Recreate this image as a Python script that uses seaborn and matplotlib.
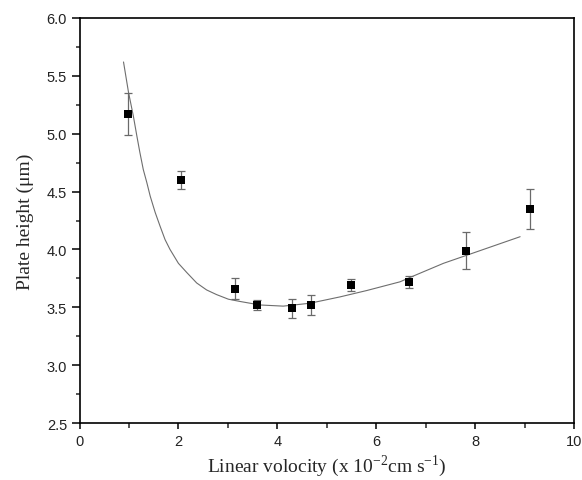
import matplotlib
matplotlib.use("Agg")
import matplotlib.pyplot as plt
from matplotlib.ticker import MultipleLocator, FormatStrFormatter
import pandas as pd
import seaborn as sns

sns.set_style("ticks")

# === Data ===
velocity = [0.99, 2.06, 3.14, 3.58, 4.30, 4.69, 5.49, 6.67, 7.81, 9.10]
plate_height = [5.17, 4.60, 3.66, 3.52, 3.49, 3.52, 3.695, 3.72, 3.99, 4.35]
height_err = [0.18, 0.08, 0.09, 0.04, 0.08, 0.09, 0.05, 0.05, 0.16, 0.175]

# fitted curve
fit_velocity = [0.89, 0.99, 1.09, 1.16, 1.22, 1.29, 1.36, 1.43, 1.53, 1.63,
                1.73, 1.83, 2.00, 2.17, 2.37, 2.57, 2.77, 3.01, 3.25, 3.65,
                4.12, 4.66, 5.27, 5.81, 6.48, 6.75, 7.36, 7.90, 8.91]
fit_height = [5.62, 5.36, 5.15, 4.98, 4.84, 4.69, 4.58, 4.46, 4.32, 4.20,
              4.085, 4.00, 3.88, 3.80, 3.71, 3.65, 3.61, 3.57, 3.55, 3.52,
              3.51, 3.535, 3.59, 3.645, 3.72, 3.77, 3.88, 3.96, 4.11]

df = pd.DataFrame({"u": velocity, "H": plate_height, "err": height_err})
fit_df = pd.DataFrame({"u": fit_velocity, "H": fit_height})

fig = plt.figure(figsize=(5.82, 4.81), dpi=100)
ax = fig.add_axes([0.1366, 0.1185, 0.8497, 0.842])

sns.lineplot(data=fit_df, x="u", y="H", ax=ax, color="#6e6e6e", linewidth=0.8,
             sort=False, estimator=None)
ax.errorbar(df["u"], df["H"], yerr=df["err"], fmt="none", ecolor="#6a6a6a",
            elinewidth=0.9, capsize=3, capthick=0.9, zorder=3)
sns.scatterplot(data=df, x="u", y="H", ax=ax, marker="s", s=30, color="black",
                edgecolor="black", linewidth=0, zorder=4)

ax.set_xlim(0, 10)
ax.set_ylim(2.5, 6.0)
ax.xaxis.set_major_locator(MultipleLocator(2))
ax.xaxis.set_minor_locator(MultipleLocator(1))
ax.yaxis.set_major_locator(MultipleLocator(0.5))
ax.yaxis.set_minor_locator(MultipleLocator(0.25))
ax.yaxis.set_major_formatter(FormatStrFormatter("%.1f"))

for lab in ax.get_xticklabels() + ax.get_yticklabels():
    lab.set_fontfamily("Liberation Sans")
ax.tick_params(axis="both", which="major", labelsize=10.5, width=1.1, color="black",
               labelcolor="#222222")
ax.tick_params(axis="y", which="major", length=6, pad=3)
ax.tick_params(axis="y", which="minor", length=3, width=1.1)
ax.tick_params(axis="x", which="major", length=4, pad=4)
ax.tick_params(axis="x", which="minor", length=3.5, width=1.1)

for side in ["top", "right", "left", "bottom"]:
    ax.spines[side].set_visible(True)
    ax.spines[side].set_linewidth(1.2)
    ax.spines[side].set_color("black")

ax.set_xlabel(r"Linear volocity (x 10$^{\mathregular{-2}}$cm s$^{\mathregular{-1}}$)",
              fontfamily="Liberation Serif", fontsize=14, labelpad=3)
ax.set_ylabel("Plate height (\u03bcm)", fontfamily="Liberation Serif",
              fontsize=14, labelpad=9)

fig.savefig("out.png", dpi=100)
